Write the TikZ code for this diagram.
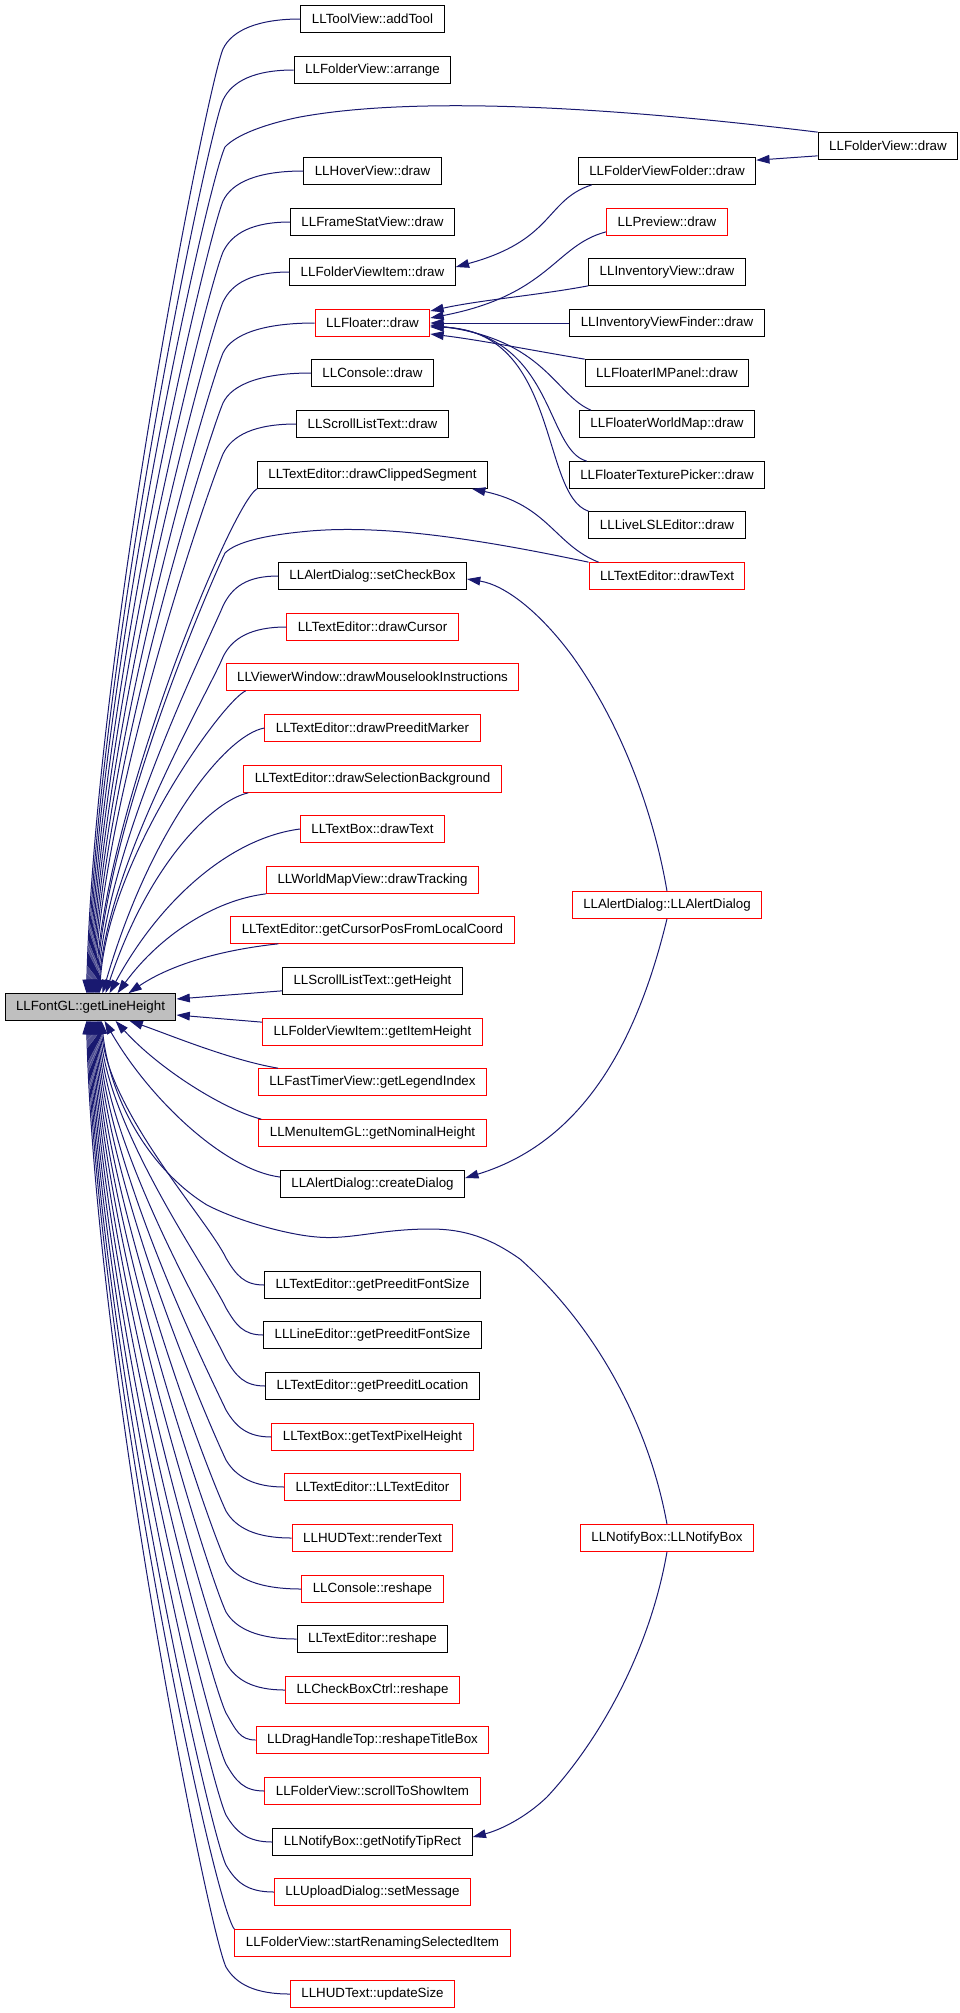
\documentclass[tikz,border=0pt]{standalone}
\usepackage{fontspec}
\setmainfont{Liberation Sans}
\usepackage{tikz}
\usetikzlibrary{arrows.meta,calc}
\definecolor{edgeblue}{HTML}{191970}
\definecolor{calleegray}{HTML}{BFBFBF}

\begin{document}
\begin{tikzpicture}[x=0.75pt,y=-0.75pt,
    fn/.style={draw=black, line width=0.75pt, inner xsep=8.25pt, inner ysep=0pt,
        minimum height=20pt, font=\fontsize{10}{12}\selectfont},
    fnred/.style={fn, draw=red},
    callee/.style={fn, fill=calleegray},
    calls/.style={draw=edgeblue, line width=0.75pt, -{Triangle[length=10pt,width=6.5pt]}}]
    \useasboundingbox (0,0) rectangle (960,2013);

    \node[callee] (lineHeight) at (90.5, 1007) {LLFontGL::getLineHeight};

    \node[fn] (addTool) at (372.5, 19) {LLToolView::addTool};
    \node[fn] (arrange) at (372.5, 70) {LLFolderView::arrange};
    \node[fn] (hoverDraw) at (372.5, 171) {LLHoverView::draw};
    \node[fn] (frameStatDraw) at (372.5, 222) {LLFrameStatView::draw};
    \node[fn] (fvItemDraw) at (372.5, 272) {LLFolderViewItem::draw};
    \node[fnred] (floaterDraw) at (372.5, 323) {LLFloater::draw};
    \node[fn] (consoleDraw) at (372.5, 373) {LLConsole::draw};
    \node[fn] (slDraw) at (372.5, 424) {LLScrollListText::draw};
    \node[fn] (clippedSeg) at (372.5, 475) {LLTextEditor::drawClippedSegment};
    \node[fn] (setCheckBox) at (372.5, 576) {LLAlertDialog::setCheckBox};
    \node[fnred] (drawCursor) at (372.5, 627) {LLTextEditor::drawCursor};
    \node[fnred] (mouselook) at (372.5, 677) {LLViewerWindow::drawMouselookInstructions};
    \node[fnred] (preeditMarker) at (372.5, 728) {LLTextEditor::drawPreeditMarker};
    \node[fnred] (selBackground) at (372.5, 779) {LLTextEditor::drawSelectionBackground};
    \node[fnred] (tbDrawText) at (372.5, 829) {LLTextBox::drawText};
    \node[fnred] (drawTracking) at (372.5, 880) {LLWorldMapView::drawTracking};
    \node[fnred] (cursorPos) at (372.5, 930) {LLTextEditor::getCursorPosFromLocalCoord};
    \node[fn] (slGetHeight) at (372.5, 981) {LLScrollListText::getHeight};
    \node[fnred] (itemHeight) at (372.5, 1032) {LLFolderViewItem::getItemHeight};
    \node[fnred] (legendIndex) at (372.5, 1082) {LLFastTimerView::getLegendIndex};
    \node[fnred] (nominalHeight) at (372.5, 1133) {LLMenuItemGL::getNominalHeight};
    \node[fn] (createDialog) at (372.5, 1184) {LLAlertDialog::createDialog};
    \node[fn] (tePreeditFont) at (372.5, 1285) {LLTextEditor::getPreeditFontSize};
    \node[fn] (lePreeditFont) at (372.5, 1335) {LLLineEditor::getPreeditFontSize};
    \node[fn] (preeditLoc) at (372.5, 1386) {LLTextEditor::getPreeditLocation};
    \node[fnred] (textPixel) at (372.5, 1437) {LLTextBox::getTextPixelHeight};
    \node[fnred] (teCtor) at (372.5, 1487) {LLTextEditor::LLTextEditor};
    \node[fnred] (renderText) at (372.5, 1538) {LLHUDText::renderText};
    \node[fnred] (consoleReshape) at (372.5, 1589) {LLConsole::reshape};
    \node[fn] (teReshape) at (372.5, 1639) {LLTextEditor::reshape};
    \node[fnred] (cbReshape) at (372.5, 1690) {LLCheckBoxCtrl::reshape};
    \node[fnred] (titleBox) at (372.5, 1740) {LLDragHandleTop::reshapeTitleBox};
    \node[fnred] (scrollToItem) at (372.5, 1791) {LLFolderView::scrollToShowItem};
    \node[fn] (tipRect) at (372.5, 1842) {LLNotifyBox::getNotifyTipRect};
    \node[fnred] (setMessage) at (372.5, 1892) {LLUploadDialog::setMessage};
    \node[fnred] (startRenaming) at (372.5, 1943) {LLFolderView::startRenamingSelectedItem};
    \node[fnred] (updateSize) at (372.5, 1994) {LLHUDText::updateSize};

    \node[fn] (fvFolderDraw) at (667, 171) {LLFolderViewFolder::draw};
    \node[fnred] (previewDraw) at (667, 222) {LLPreview::draw};
    \node[fn] (invViewDraw) at (667, 272) {LLInventoryView::draw};
    \node[fn] (invFinderDraw) at (667, 323) {LLInventoryViewFinder::draw};
    \node[fn] (imPanelDraw) at (667, 373) {LLFloaterIMPanel::draw};
    \node[fn] (worldMapDraw) at (667, 424) {LLFloaterWorldMap::draw};
    \node[fn] (texPickerDraw) at (667, 475) {LLFloaterTexturePicker::draw};
    \node[fn] (liveLSLDraw) at (667, 525) {LLLiveLSLEditor::draw};
    \node[fnred] (teDrawText) at (667, 576) {LLTextEditor::drawText};
    \node[fnred] (alertDialog) at (667, 905) {LLAlertDialog::LLAlertDialog};
    \node[fnred] (notifyBox) at (667, 1538) {LLNotifyBox::LLNotifyBox};
    \node[fn] (fvDraw) at (888, 146) {LLFolderView::draw};

    % callers above getLineHeight
    \draw[calls] (addTool.west) .. controls +(-42,0) and (232,30) .. (223,49) .. controls (207,87) and (95,652) .. ($(lineHeight.north west)+(82,0)$);
    \draw[calls] (arrange.west) .. controls +(-39,0) and (232,81) .. (223,100) .. controls (207,138) and (96,670) .. ($(lineHeight.north west)+(83,0)$);
    \draw[calls] (fvDraw.north west) .. controls (620,108) and (420,95) .. (300,117) .. controls (265,124) and (236,135) .. (225,147) .. controls (207,185) and (97,686) .. ($(lineHeight.north west)+(84,0)$);
    \draw[calls] (hoverDraw.west) .. controls +(-45,0) and (232,182) .. (223,201) .. controls (207,239) and (98,705) .. ($(lineHeight.north west)+(85,0)$);
    \draw[calls] (frameStatDraw.west) .. controls +(-37,0) and (232,233) .. (223,252) .. controls (207,290) and (99,723) .. ($(lineHeight.north west)+(86,0)$);
    \draw[calls] (fvItemDraw.west) .. controls +(-37,0) and (232,283) .. (223,302) .. controls (207,340) and (100,741) .. ($(lineHeight.north west)+(87,0)$);
    \draw[calls] (floaterDraw.west) .. controls +(-51,0) and (232,334) .. (223,353) .. controls (207,391) and (101,758) .. ($(lineHeight.north west)+(88,0)$);
    \draw[calls] (consoleDraw.west) .. controls +(-49,0) and (232,384) .. (223,403) .. controls (207,441) and (102,776) .. ($(lineHeight.north west)+(89,0)$);
    \draw[calls] (slDraw.west) .. controls +(-41,0) and (232,435) .. (223,454) .. controls (207,492) and (103,794) .. ($(lineHeight.north west)+(90,0)$);
    \draw[calls] (clippedSeg.south west) .. controls +(-25,14) and (104,812) .. ($(lineHeight.north west)+(91,0)$);
    \draw[calls] (teDrawText.north west) .. controls (470,537) and (380,525) .. (310,531) .. controls (265,535) and (236,542) .. (225,553) .. controls (207,591) and (105,828) .. ($(lineHeight.north west)+(92,0)$);
    \draw[calls] (setCheckBox.west) .. controls +(-31,0) and (232,587) .. (223,606) .. controls (207,644) and (106,847) .. ($(lineHeight.north west)+(93,0)$);
    \draw[calls] (drawCursor.west) .. controls +(-35,0) and (232,638) .. (223,657) .. controls (207,695) and (107,865) .. ($(lineHeight.north west)+(94,0)$);
    \draw[calls] ($(mouselook.south west)+(20,0)$) .. controls (222,702) and (108,860) .. ($(lineHeight.north west)+(95,0)$);
    \draw[calls] (preeditMarker.west) .. controls (225,735) and (150,830) .. ($(lineHeight.north west)+(98,0)$);
    \draw[calls] ($(selBackground.south west)+(5,0)$) .. controls (215,800) and (150,860) .. ($(lineHeight.north west)+(101,0)$);
    \draw[calls] (tbDrawText.west) .. controls (230,838) and (160,900) .. ($(lineHeight.north west)+(105,0)$);
    \draw[calls] (drawTracking.south west) .. controls (215,900) and (160,935) .. ($(lineHeight.north west)+(113,0)$);
    \draw[calls] ($(cursorPos.south west)+(48,0)$) .. controls (220,950) and (170,965) .. ($(lineHeight.north west)+(124,0)$);

    % callers beside and below getLineHeight
    \draw[calls] ($(slGetHeight.south west)+(0,-4)$) -- ($(lineHeight.east)+(0,-8)$);
    \draw[calls] ($(itemHeight.north west)+(0,4)$) -- ($(lineHeight.east)+(0,8)$);
    \draw[calls] ($(legendIndex.north west)+(20,0)$) .. controls (230,1060) and (170,1035) .. ($(lineHeight.south west)+(125,0)$);
    \draw[calls] ($(nominalHeight.north west)+(3,0)$) .. controls (225,1110) and (160,1070) .. ($(lineHeight.south west)+(111,0)$);
    \draw[calls] ($(createDialog.west)+(0,-7)$) .. controls (225,1170) and (150,1100) .. ($(lineHeight.south west)+(100,0)$);
    \draw[calls] (notifyBox.north) .. controls (650,1430) and (600,1330) .. (520,1259) .. controls (490,1238) and (465,1229) .. (430,1229) .. controls (380,1229) and (350,1240) .. (317,1237) .. controls (290,1235) and (240,1222) .. (207,1205) .. controls (150,1170) and (110,1100) .. ($(lineHeight.south west)+(97,0)$);
    \draw[calls] (tePreeditFont.west) .. controls +(-20,0) and (236,1275) .. (226,1258) .. controls (208,1220) and (109,1113) .. ($(lineHeight.south west)+(96,0)$);
    \draw[calls] (lePreeditFont.west) .. controls +(-20,0) and (236,1325) .. (226,1308) .. controls (208,1270) and (108,1131) .. ($(lineHeight.south west)+(95,0)$);
    \draw[calls] (preeditLoc.west) .. controls +(-21,0) and (236,1376) .. (226,1359) .. controls (208,1321) and (107,1149) .. ($(lineHeight.south west)+(94,0)$);
    \draw[calls] (textPixel.west) .. controls +(-24,0) and (236,1427) .. (226,1410) .. controls (208,1372) and (106,1167) .. ($(lineHeight.south west)+(93,0)$);
    \draw[calls] (teCtor.west) .. controls +(-30,0) and (236,1477) .. (226,1460) .. controls (208,1422) and (105,1184) .. ($(lineHeight.south west)+(92,0)$);
    \draw[calls] (renderText.west) .. controls +(-36,0) and (236,1528) .. (226,1511) .. controls (208,1473) and (104,1202) .. ($(lineHeight.south west)+(91,0)$);
    \draw[calls] (consoleReshape.west) .. controls +(-41,0) and (236,1579) .. (226,1562) .. controls (208,1524) and (103,1220) .. ($(lineHeight.south west)+(90,0)$);
    \draw[calls] (teReshape.west) .. controls +(-38,0) and (236,1629) .. (226,1612) .. controls (208,1574) and (102,1237) .. ($(lineHeight.south west)+(89,0)$);
    \draw[calls] (cbReshape.west) .. controls +(-32,0) and (236,1680) .. (226,1663) .. controls (208,1625) and (101,1255) .. ($(lineHeight.south west)+(88,0)$);
    \draw[calls] (titleBox.west) .. controls +(-16,0) and (236,1730) .. (226,1713) .. controls (208,1675) and (100,1273) .. ($(lineHeight.south west)+(87,0)$);
    \draw[calls] (scrollToItem.west) .. controls +(-21,0) and (236,1781) .. (226,1764) .. controls (208,1726) and (99,1291) .. ($(lineHeight.south west)+(86,0)$);
    \draw[calls] (tipRect.west) .. controls +(-25,0) and (236,1832) .. (226,1815) .. controls (208,1777) and (98,1308) .. ($(lineHeight.south west)+(85,0)$);
    \draw[calls] (setMessage.west) .. controls +(-27,0) and (236,1882) .. (226,1865) .. controls (208,1827) and (97,1326) .. ($(lineHeight.south west)+(84,0)$);
    \draw[calls] (startRenaming.north west) .. controls (212,1900) and (96,1344) .. ($(lineHeight.south west)+(83,0)$);
    \draw[calls] (updateSize.west) .. controls +(-35,0) and (236,1984) .. (226,1967) .. controls (208,1929) and (95,1362) .. ($(lineHeight.south west)+(82,0)$);

    % callers in the right column
    \draw[calls] ($(fvDraw.south west)+(0,-4)$) -- ($(fvFolderDraw.north east)+(0,3)$);
    \draw[calls] ($(fvFolderDraw.south west)+(14,0)$) .. controls (545,200) and (555,240) .. ($(fvItemDraw.east)+(0,-5)$);
    \draw[calls] ($(previewDraw.south west)+(0,-4)$) .. controls (555,245) and (550,295) .. ($(floaterDraw.east)+(0,-5)$);
    \draw[calls] (invViewDraw.south west) .. controls (540,295) and (480,300) .. ($(floaterDraw.east)+(0,-12)$);
    \draw[calls] (invFinderDraw.west) -- (floaterDraw.east);
    \draw[calls] (imPanelDraw.north west) .. controls (530,350) and (480,340) .. ($(floaterDraw.east)+(0,11)$);
    \draw[calls] ($(worldMapDraw.north west)+(12,0)$) .. controls (555,395) and (545,340) .. ($(floaterDraw.east)+(0,2)$);
    \draw[calls] ($(texPickerDraw.north west)+(18,0)$) .. controls (545,450) and (555,335) .. ($(floaterDraw.east)+(0,3)$);
    \draw[calls] (liveLSLDraw.north west) .. controls (540,495) and (560,330) .. ($(floaterDraw.east)+(0,4)$);
    \draw[calls] ($(teDrawText.north west)+(10,0)$) .. controls (555,545) and (548,505) .. ($(clippedSeg.south east)+(-16,0)$);
    \draw[calls] (alertDialog.north) .. controls (655,820) and (625,730) .. (573,657) .. controls (540,612) and (505,585) .. ($(setCheckBox.east)+(0,3)$);
    \draw[calls] (alertDialog.south) .. controls (640,1030) and (590,1140) .. ($(createDialog.east)+(0,-6)$);
    \draw[calls] (notifyBox.south) .. controls (650,1650) and (600,1740) .. (547,1797) .. controls (525,1818) and (500,1830) .. ($(tipRect.east)+(0,-5)$);
\end{tikzpicture}
\end{document}
